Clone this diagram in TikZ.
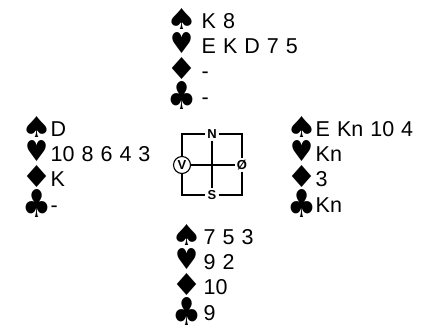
\documentclass[tikz,border=0pt]{standalone}
\usepackage{graphicx}
\usepackage{fontspec}
\setmainfont{Liberation Sans}
\newfontfamily\suitfont{DejaVu Sans}
\usetikzlibrary{positioning}
% suit glyph: width, height, shift, glyph
\newcommand{\suit}[4]{\makebox[21pt]{\raisebox{#3}[0pt][0pt]{\resizebox*{#1}{#2}{\suitfont #4}}}}
\newcommand{\suitS}{\suit{31pt}{21pt}{-1pt}{♠}}
\newcommand{\suitH}{\suit{23pt}{21pt}{0pt}{♥}}
\newcommand{\suitD}{\suit{31pt}{22pt}{-1pt}{♦}}
\newcommand{\suitC}{\suit{29pt}{28pt}{-5pt}{♣}}
\newcommand{\handfont}{\fontsize{21.5}{25.3}\selectfont}
% wider word space for the card rows
\AtBeginDocument{{\handfont\fontdimen2\font=7pt}}

\begin{document}
\begin{tikzpicture}[x=1pt, y=-1pt,
    hand/.style={anchor=west, inner sep=0pt, align=left, font=\handfont},
    seat/.style={inner sep=2pt, font=\bfseries\fontsize{13}{13}\selectfont},
    box line/.style={line width=1.3pt}]
  \useasboundingbox (0,0) rectangle (425,326);
  % the four hands
  \node[hand] (north) at (171.5,61) {%
    \suitS\hspace{9pt}\strut K 8\\
    \suitH\hspace{9pt}\strut E K D 7 5\\
    \suitD\hspace{9pt}\strut -\\
    \suitC\hspace{9pt}\strut -};
  \node[hand] (west) at (26.5,169) {%
    \suitS\hspace{3pt}\strut D\\
    \suitH\hspace{3pt}\strut 10 8 6 4 3\\
    \suitD\hspace{3pt}\strut K\\
    \suitC\hspace{3pt}\strut -};
  \node[hand] (east) at (291.5,169) {%
    \suitS\hspace{3pt}\strut E Kn 10 4\\
    \suitH\hspace{3pt}\strut Kn\\
    \suitD\hspace{3pt}\strut 3\\
    \suitC\hspace{3pt}\strut Kn};
  \node[hand] (south) at (176.5,277) {%
    \suitS\hspace{6pt}\strut 7 5 3\\
    \suitH\hspace{6pt}\strut 9 2\\
    \suitD\hspace{6pt}\strut 10\\
    \suitC\hspace{6pt}\strut 9};
  % compass
  \node[seat] (n) at (212,134) {N};
  \node[seat] (s) at (212,195) {S};
  \node[seat, draw, circle, line width=1.1pt, inner sep=1.6pt] (w) at (182,165) {V};
  \node[seat] (e) at (242,165) {Ø};
  \draw[box line] (n.west) -| (w.north);
  \draw[box line] (w.south) |- (s.west);
  \draw[box line] (s.east) -| (e.south);
  \draw[box line] (e.north) |- (n.east);
  \draw[box line] (n) -- (s);
  \draw[box line] (w) -- (e);
\end{tikzpicture}
\end{document}
